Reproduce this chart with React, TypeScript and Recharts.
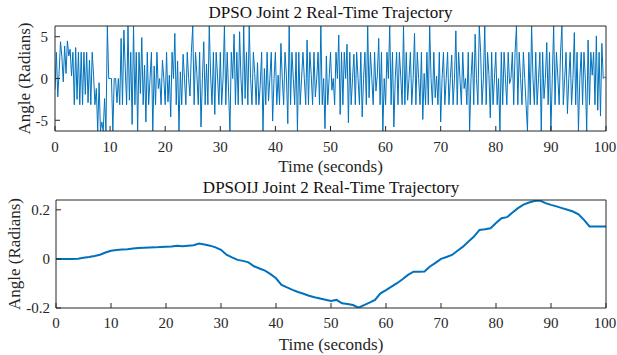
import { LineChart, Line, XAxis, YAxis } from "recharts"

const FONT = '"Liberation Serif", "Times New Roman", serif'
const AXIS = "#262626"
const BLUE = "#0072BD"

// shared time axis ticks
const timeTicks = [0, 10, 20, 30, 40, 50, 60, 70, 80, 90, 100]

// DPSO joint 2 angle, sampled every 0.25 s (0..100 s)
const DPSO_STEP = 0.25
const dpsoAngle = [
  -1.3, 3.14, -2.2, 0.8, 4.4, 2.6, -0.4, 3.9, 0.6, 4.5, 2.7, 3.5, 0.3, 3.14, -3.14, 3.7, -2.5, 3.14, -3.14, 3.14,
  -3.14, 3.14, -1.9, 3.14, -2.9, 2.2, -3.14, 3.14, 0.4, -3.14, -1.2, -6.28, -0.5, -6.28, -5.2, -6.28, -2.4, -6.28, 6.28, 0,
  0, 0, -6.28, 0, 0, -2.9, 0, -3.14, 4.8, -3.14, 5.8, 1.2, -3.14, 6.28, -2.6, 3.14, -5.5, 6.28, -3.14, 3.14,
  -6.28, 3.14, -1.8, 4.9, -3.14, 1.6, -5.2, 3.14, -3.14, 0, 3.14, -6.28, 1.5, -3.14, 3.14, -1.2, 0, -3.14, 2.2, 0,
  -3.14, 3.14, -2.8, 0.4, -4.6, 3.14, 0, 5.4, -3.14, 2.1, -6.28, 0.8, -3.14, 2.9, 0, -3.14, 3.14, 0, -2.1, 3.14,
  6.28, -3.14, 3.14, 0.5, -3.14, 3.14, -5.8, 0, 4.4, -3.14, 1.7, -3.14, 6.28, 0.2, -3.14, 3.14, -4.3, 3.14, 0.3, -3.14,
  3.14, -3.14, 0, 6.28, -3.14, 3.14, -1.6, -6.28, 3.14, 0, 5.3, -3.14, 3.14, -3.14, 5.6, 0, -3.14, 6.28, -2.4, 3.14,
  -3.14, 6.28, 0, -3.14, 3.14, 0.6, -3.14, 1.9, -3.14, -0.8, 3.14, -6.28, 1.2, -3.14, 3.14, -2.7, 0, 3.14, -5.1, 0,
  3.14, -3.14, 0.4, -3.14, 4.2, 0, -3.14, 3.14, 0.3, -5.4, 6.28, -3.14, 3.14, 0, -3.14, 3.14, -6.28, 3.14, -3.14, 0,
  3.14, 0, -3.14, 4.6, -3.14, 3.14, 0.5, -3.14, 3.14, -2.2, 0, 3.14, -3.14, 6.28, -3.14, 0, -6.0, 2.7, -3.14, 0,
  3.14, -1.4, 0, -3.14, 3.14, 0, 5.2, -4.3, 3.14, -3.14, 3.14, 0, 4.1, -5.3, 3.14, -3.14, 0, 2.9, -3.14, 3.14,
  0, -3.14, 3.14, -4.6, 0, 3.14, -3.14, 6.28, -2.3, 3.14, 0, -3.14, 3.14, -1.5, 0.4, 4.8, -3.14, 3.14, -6.28, 0,
  -3.14, 3.14, 0, 6.28, -3.14, 3.14, -5.8, 0, 3.14, -3.14, 3.14, 0.2, -3.14, 6.28, -3.14, 3.14, -2.6, 0, 3.14, -3.14,
  0, 5.4, -3.14, 3.14, 0, -3.14, 3.14, -4.9, 0.6, -3.14, 3.14, -3.14, 6.28, 0, -3.14, 3.14, -2.3, 0.3, -3.14, 3.14,
  -5.2, 0, 3.14, -3.14, 0, 3.14, -3.14, 0, 2.8, -3.14, 0, 5.7, -3.14, 3.14, 0, -3.14, 3.14, -1.2, 0, -3.14,
  3.14, -6.28, 0, 3.14, -3.14, 5.3, 0, -3.14, 6.28, 3.14, -3.14, 0, 6.28, -3.14, 3.14, 0.5, -4.7, 3.14, -3.14, 0,
  3.14, -3.14, 0, -6.28, 3.14, -3.14, 3.14, 0, -3.14, 3.14, -0.6, 0, 3.14, -3.14, 3.14, 6.28, -3.14, 3.14, 0, -3.14,
  3.14, 0, -3.14, -6.28, 3.14, -3.14, 6.28, 0, -3.14, 3.14, -3.14, 0, 3.14, -6.28, 3.14, -2.4, 0, 4.3, -3.14, 3.14,
  -6.28, 0, 6.28, -3.14, 3.14, 0.3, -3.14, 3.14, 6.28, -3.14, 0, 3.14, -4.2, 0, 3.14, -3.14, 0, 5.5, -3.14, 3.14,
  -6.28, 0, 3.14, -3.14, 3.14, 0, -6.28, 4.6, -3.14, 3.14, 0.4, 3.14, -3.14, 5.1, -3.8, 3.14, -4.5, 4.2, 0, 0.2,
  0,
]
const dpsoTicks = [-5, 0, 5]
const dpsoDomain = [-6.2832, 6.2832]

// DPSOIJ joint 2 angle, one sample per second (0..100 s)
const DPSOIJ_STEP = 1
const dpsoijAngle = [
  0, 0, 0, 0, 0.001, 0.005, 0.008, 0.012, 0.017, 0.026, 0.033, 0.036, 0.038, 0.039, 0.042, 0.044, 0.045, 0.046, 0.047, 0.049,
  0.05, 0.051, 0.054, 0.052, 0.054, 0.056, 0.063, 0.059, 0.054, 0.047, 0.037, 0.017, 0.006, -0.004, -0.008, -0.014, -0.03, -0.039, -0.048, -0.062,
  -0.079, -0.106, -0.116, -0.126, -0.135, -0.142, -0.15, -0.156, -0.161, -0.166, -0.171, -0.167, -0.181, -0.184, -0.188, -0.199, -0.188, -0.178, -0.167, -0.14,
  -0.127, -0.113, -0.099, -0.083, -0.065, -0.052, -0.052, -0.051, -0.031, -0.016, 0, 0.008, 0.016, 0.033, 0.05, 0.071, 0.091, 0.118, 0.121, 0.125,
  0.146, 0.166, 0.17, 0.189, 0.207, 0.221, 0.23, 0.236, 0.238, 0.227, 0.22, 0.214, 0.207, 0.2, 0.193, 0.182, 0.159, 0.132, 0.132, 0.132,
  0.132,
]
const dpsoijTicks = [-0.2, 0, 0.2]
const dpsoijDomain = [-0.2, 0.24]

const dpsoData = dpsoAngle.map((v, i) => ({ t: i * DPSO_STEP, angle: v }))
const dpsoijData = dpsoijAngle.map((v, i) => ({ t: i * DPSOIJ_STEP, angle: v }))

// tick label renderers, serif like the original figure
const XTick = (props: any) => (
  <text x={props.x} y={props.y} dy="0.71em" textAnchor="middle" fill={AXIS} fontSize={15} fontFamily={FONT}>
    {props.payload.value}
  </text>
)
const YTick = (props: any) => (
  <text x={props.x} y={props.y} dy="0.355em" textAnchor="end" fill={AXIS} fontSize={15} fontFamily={FONT}>
    {props.payload.value}
  </text>
)

interface PanelProps {
  title: string
  data: { t: number; angle: number }[]
  yTicks: number[]
  yDomain: number[]
  height: number
  marginTop: number
  yAxisWidth: number
  yLabelX: number
  titleOffset: number
  xTickMargin: number
  yTickMargin: number
  timeLabelOffset: number
  strokeWidth: number
}

function Panel(p: PanelProps) {
  return (
    <LineChart
      width={617}
      height={p.height}
      data={p.data}
      margin={{ top: p.marginTop, right: 10, left: 0, bottom: 0 }}
    >
      <XAxis
        dataKey="t"
        type="number"
        domain={[0, 100]}
        ticks={timeTicks}
        allowDataOverflow
        height={47}
        stroke={AXIS}
        tickSize={-5}
        tickMargin={p.xTickMargin}
        tick={XTick}
        label={{ value: "Time (seconds)", position: "insideBottom", offset: p.timeLabelOffset, fill: AXIS, fontSize: 17, fontFamily: FONT }}
      />
      <XAxis
        xAxisId="top"
        orientation="top"
        type="number"
        domain={[0, 100]}
        ticks={timeTicks}
        allowDataOverflow
        height={1}
        stroke={AXIS}
        tickSize={-5}
        tick={false}
        label={{ value: p.title, position: "top", offset: p.titleOffset, fill: "#111", fontSize: 17, fontFamily: FONT }}
      />
      <YAxis
        type="number"
        domain={p.yDomain}
        ticks={p.yTicks}
        allowDataOverflow
        width={p.yAxisWidth}
        stroke={AXIS}
        tickSize={-5}
        tickMargin={p.yTickMargin}
        tick={YTick}
        label={{
          content: (props: any) => {
            const vb = props.viewBox || { y: 0, height: 0 }
            const cy = vb.y + vb.height / 2
            return (
              <text
                x={p.yLabelX}
                y={cy}
                transform={`rotate(-90, ${p.yLabelX}, ${cy})`}
                textAnchor="middle"
                dominantBaseline="central"
                fill={AXIS}
                fontSize={17}
                fontFamily={FONT}
              >
                Angle (Radians)
              </text>
            )
          },
        }}
      />
      <YAxis
        yAxisId="right"
        orientation="right"
        type="number"
        domain={p.yDomain}
        ticks={p.yTicks}
        allowDataOverflow
        width={1}
        stroke={AXIS}
        tickSize={-5}
        tick={false}
      />
      <Line
        dataKey="angle"
        type="linear"
        stroke={BLUE}
        strokeWidth={p.strokeWidth}
        dot={false}
        activeDot={false}
        isAnimationActive={false}
      />
    </LineChart>
  )
}

export default function App() {
  return (
    <div style={{ position: "absolute", left: 0, top: 0, width: 617, height: 355, background: "#fff" }}>
      <Panel
        title="DPSO Joint 2 Real-Time Trajectory"
        data={dpsoData}
        yTicks={dpsoTicks}
        yDomain={dpsoDomain}
        height={178}
        marginTop={25}
        yAxisWidth={55}
        yLabelX={24}
        titleOffset={7}
        xTickMargin={15}
        yTickMargin={12}
        timeLabelOffset={6}
        strokeWidth={1}
      />
      <Panel
        title="DPSOIJ Joint 2 Real-Time Trajectory"
        data={dpsoijData}
        yTicks={dpsoijTicks}
        yDomain={dpsoijDomain}
        height={177}
        marginTop={21}
        yAxisWidth={56}
        yLabelX={14}
        titleOffset={6}
        xTickMargin={14}
        yTickMargin={11}
        timeLabelOffset={5}
        strokeWidth={2}
      />
    </div>
  )
}
